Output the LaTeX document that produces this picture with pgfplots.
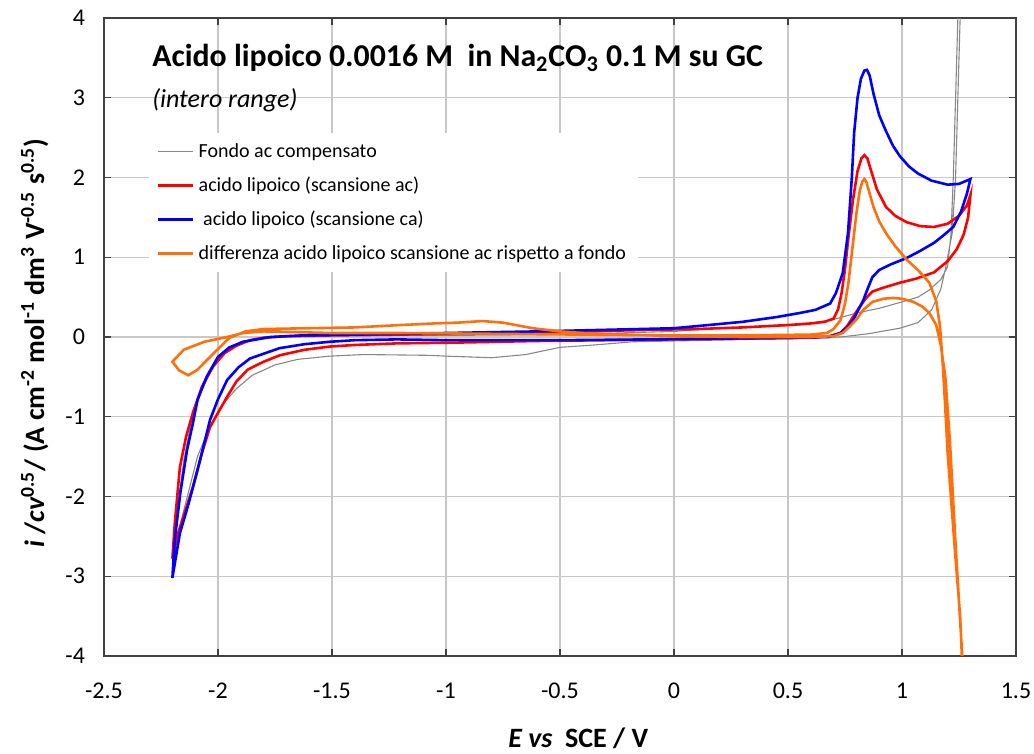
\documentclass[border=0pt]{standalone}
\usepackage{pgfplots}
\pgfplotsset{compat=1.18}
\usepackage{fontspec}
\setmainfont{Carlito}
\definecolor{myorange}{RGB}{255,112,10}
\definecolor{mygray}{RGB}{135,135,135}
\definecolor{gridgray}{RGB}{200,200,200}
\begin{document}
\begin{tikzpicture}
\begin{axis}[
  scale only axis,
  width=456pt, height=319pt,
  xmin=-2.5, xmax=1.5, ymin=-4, ymax=4,
  xtick={-2.5,-2,-1.5,-1,-0.5,0,0.5,1,1.5},
  ytick={-4,-3,-2,-1,0,1,2,3,4},
  grid=major,
  major grid style={gridgray, line width=0.6pt},
  axis line style={black!75, line width=0.6pt},
  tick style={black!75, line width=0.6pt},
  tick align=inside,
  major tick length=3.5pt,
  /pgf/number format/assume math mode=true,
  ticklabel style={font=\fontsize{12}{14}\selectfont},
  xticklabel style={yshift=-10pt},
  yticklabel style={xshift=-6pt},
  xlabel={\textbf{\textit{E vs}\ \ SCE / V}},
  xlabel style={at={(axis description cs:0.52,-0.1285)}, anchor=center, font=\fontsize{14}{16}\selectfont},
  ylabel={\textbf{\textit{i} /\textit{cv}\textsuperscript{0.5}/ (A cm\textsuperscript{-2} mol\textsuperscript{-1} dm\textsuperscript{3} V\textsuperscript{-0.5} s\textsuperscript{0.5})}},
  every axis y label/.style={at={(axis description cs:-0.076,0.49)}, rotate=90, anchor=center, font=\fontsize{14}{16}\selectfont},
  legend style={at={(rel axis cs:0.049,0.82)}, anchor=north west, draw=none, fill=white,
    font=\fontsize{10}{12}\selectfont, row sep=4.3pt, inner xsep=4pt, inner ysep=3pt},
  legend cell align=left,
  legend image code/.code={\draw[#1] (0pt,0pt) -- (17.5pt,0pt);},
]
\addplot[mygray, line width=0.55pt] coordinates {
(-2.20,-2.70) (-2.18,-2.20) (-2.15,-1.55) (-2.12,-1.10) (-2.08,-0.72) (-2.03,-0.42)
(-1.97,-0.20) (-1.90,-0.06) (-1.80,0.00) (-1.50,0.02) (-1.00,0.02) (-0.50,0.03)
(0.00,0.07) (0.20,0.11) (0.55,0.15) (0.70,0.22) (0.80,0.30) (0.90,0.36) (1.00,0.44)
(1.07,0.50) (1.12,0.59) (1.17,0.72) (1.20,0.88) (1.215,1.3) (1.225,2.0) (1.235,3.0)
(1.245,4.0) (1.25,4.6) (1.26,4.6) (1.255,4.0) (1.245,3.0) (1.235,2.0) (1.22,1.3)
(1.19,0.85) (1.17,0.60) (1.13,0.34) (1.07,0.18) (0.99,0.11) (0.85,0.04) (0.73,0.00)
(0.50,-0.02) (0.17,-0.04) (-0.18,-0.06) (-0.35,-0.10) (-0.50,-0.13) (-0.65,-0.22)
(-0.80,-0.26) (-1.00,-0.24) (-1.07,-0.23) (-1.36,-0.22) (-1.51,-0.24) (-1.65,-0.28)
(-1.75,-0.35) (-1.85,-0.48) (-1.92,-0.65) (-1.98,-0.85) (-2.04,-1.15) (-2.09,-1.50)
(-2.13,-1.95) (-2.17,-2.40) (-2.20,-2.70)
};
\addlegendentry{Fondo ac compensato}
\addplot[red, line width=1.3pt] coordinates {
(-2.20,-2.78) (-2.19,-2.35) (-2.167,-1.63) (-2.14,-1.25) (-2.11,-0.95) (-2.07,-0.62)
(-2.02,-0.36) (-1.97,-0.20) (-1.92,-0.11) (-1.86,-0.04) (-1.80,-0.01) (-1.70,0.01)
(-1.50,0.02) (-1.20,0.03) (-1.00,0.04) (-0.70,0.05) (-0.40,0.07) (-0.10,0.09)
(0.10,0.10) (0.30,0.12) (0.50,0.15) (0.60,0.17) (0.66,0.19) (0.70,0.23) (0.72,0.35)
(0.735,0.55) (0.75,0.85) (0.765,1.25) (0.785,1.72) (0.805,2.08) (0.822,2.24) (0.835,2.28)
(0.848,2.24) (0.865,2.08) (0.89,1.85) (0.93,1.63) (0.97,1.52) (1.02,1.44) (1.08,1.39) (1.14,1.38)
(1.20,1.42) (1.25,1.52) (1.285,1.65) (1.30,1.78) (1.29,1.50) (1.27,1.28) (1.24,1.10)
(1.20,0.95) (1.14,0.81) (1.06,0.73) (0.99,0.68) (0.92,0.62) (0.87,0.57) (0.84,0.48)
(0.81,0.36) (0.785,0.25) (0.76,0.14) (0.73,0.05) (0.68,0.01) (0.60,-0.01) (0.30,-0.02)
(0.00,-0.03) (-0.30,-0.04) (-0.60,-0.05) (-0.95,-0.07) (-1.215,-0.08) (-1.40,-0.10)
(-1.51,-0.12) (-1.62,-0.16) (-1.73,-0.23) (-1.80,-0.31) (-1.87,-0.41) (-1.92,-0.56)
(-1.96,-0.75) (-2.00,-0.95) (-2.035,-1.13) (-2.07,-1.45) (-2.11,-1.88) (-2.14,-2.15)
(-2.175,-2.46) (-2.20,-2.78)
};
\addlegendentry{acido lipoico (scansione ac)}
\addplot[blue, line width=1.3pt] coordinates {
(-2.20,-3.02) (-2.19,-2.55) (-2.165,-1.95) (-2.136,-1.42) (-2.11,-1.08) (-2.09,-0.79)
(-2.05,-0.50) (-2.00,-0.25) (-1.95,-0.13) (-1.89,-0.06) (-1.77,0.00) (-1.63,0.02)
(-1.40,0.03) (-1.00,0.05) (-0.60,0.07) (-0.30,0.09) (0.00,0.11) (0.114,0.14)
(0.30,0.19) (0.45,0.25) (0.55,0.30) (0.62,0.34) (0.685,0.42) (0.71,0.55) (0.74,0.80)
(0.763,1.30) (0.78,2.00) (0.79,2.56) (0.805,3.00) (0.82,3.24) (0.835,3.34) (0.846,3.35)
(0.858,3.28) (0.875,3.05) (0.90,2.78) (0.93,2.58) (0.96,2.40) (0.99,2.27) (1.03,2.14) (1.07,2.05) (1.13,1.96)
(1.20,1.91) (1.25,1.92) (1.30,1.98) (1.285,1.80) (1.26,1.58) (1.225,1.38) (1.18,1.27)
(1.14,1.18) (1.08,1.08) (1.02,0.99) (0.95,0.91) (0.90,0.84) (0.87,0.75) (0.85,0.61) (0.83,0.46)
(0.805,0.32) (0.785,0.21) (0.76,0.12) (0.73,0.05) (0.68,0.00) (0.50,-0.01) (0.20,-0.02)
(-0.10,-0.03) (-0.50,-0.04) (-1.00,-0.04) (-1.215,-0.03) (-1.40,-0.04) (-1.51,-0.06)
(-1.62,-0.09) (-1.73,-0.14) (-1.86,-0.27) (-1.91,-0.38) (-1.96,-0.54) (-2.00,-0.78)
(-2.035,-1.04) (-2.06,-1.33) (-2.09,-1.67) (-2.13,-2.10) (-2.167,-2.46) (-2.20,-3.02)
};
\addlegendentry{\ acido lipoico (scansione ca)}
\addplot[myorange, line width=1.3pt] coordinates {
(1.27,-4.5) (1.255,-3.5) (1.23,-2.6) (1.20,-1.45) (1.19,-0.9) (1.18,-0.4) (1.167,0.13)
(1.15,0.45) (1.12,0.68) (1.07,0.84) (1.02,0.97) (0.97,1.14) (0.93,1.30) (0.90,1.45)
(0.875,1.63) (0.855,1.83) (0.843,1.95) (0.835,1.98) (0.826,1.95) (0.815,1.84) (0.80,1.55) (0.79,1.30) (0.765,0.68)
(0.75,0.42) (0.73,0.21) (0.70,0.10) (0.67,0.05) (0.60,0.03) (0.30,0.02) (0.00,0.02)
(-0.40,0.03) (-0.80,0.04) (-1.20,0.05) (-1.50,0.05) (-1.80,0.07) (-1.89,0.05)
(-1.96,0.00) (-2.06,-0.06) (-2.15,-0.16) (-2.20,-0.31) (-2.17,-0.42) (-2.13,-0.48)
(-2.09,-0.41) (-2.035,-0.25) (-1.95,-0.01) (-1.88,0.07) (-1.80,0.10) (-1.60,0.11)
(-1.40,0.12) (-1.20,0.15) (-1.05,0.17) (-0.95,0.18) (-0.84,0.20) (-0.75,0.18)
(-0.62,0.11) (-0.50,0.07) (-0.40,0.05) (-0.20,0.03) (0.00,0.01) (0.30,0.00) (0.60,0.00)
(0.70,0.01) (0.74,0.05) (0.77,0.13) (0.80,0.22) (0.83,0.34) (0.87,0.44) (0.92,0.48)
(0.96,0.49) (1.00,0.48) (1.05,0.44) (1.09,0.38) (1.12,0.30) (1.15,0.15) (1.17,-0.10)
(1.19,-0.5) (1.21,-1.3) (1.235,-2.6) (1.26,-3.8) (1.275,-4.5)
};
\addlegendentry{differenza acido lipoico scansione ac rispetto a fondo}
\node[anchor=west, inner sep=0pt, font=\bfseries\fontsize{15.9}{18}\selectfont] at (axis cs:-2.29,3.50)
  {Acido lipoico 0.0016 M\ \ in Na\textsubscript{2}CO\textsubscript{3} 0.1 M su GC};
\node[anchor=west, inner sep=0pt, font=\itshape\fontsize{13}{15}\selectfont] at (axis cs:-2.29,2.97)
  {(intero range)};
\end{axis}
\pgfresetboundingbox
\path[use as bounding box] (-52pt,-49pt) rectangle (465pt,328pt);
\end{tikzpicture}
\end{document}
